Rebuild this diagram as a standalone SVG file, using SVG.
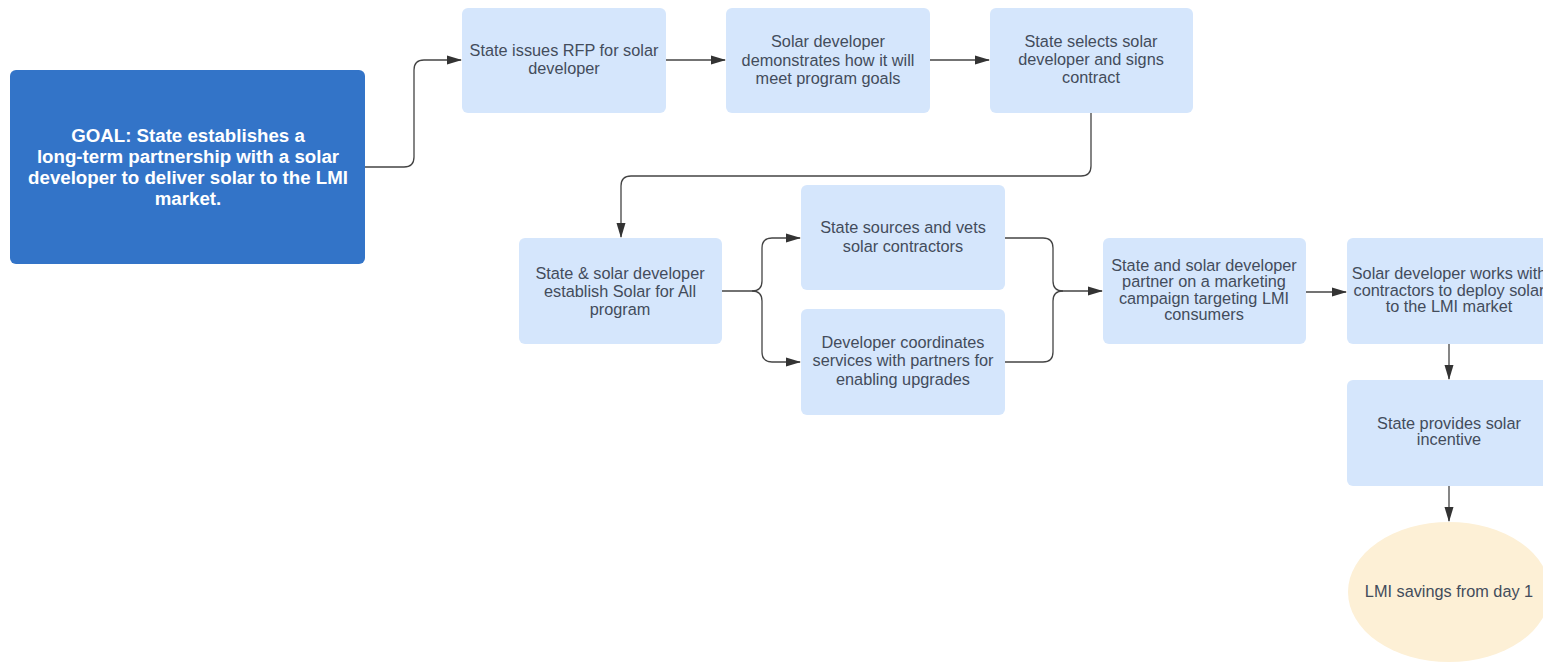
<svg xmlns="http://www.w3.org/2000/svg" width="1543" height="662" viewBox="0 0 1543 662">
<defs>
<style>
.box{fill:#d5e6fc;}
.goal{fill:#3374c8;}
.t{font-family:"Liberation Sans",Arial,sans-serif;font-size:16.3px;fill:#434c5b;text-anchor:middle;}
.gt{font-family:"Liberation Sans",Arial,sans-serif;font-size:18.7px;font-weight:bold;fill:#ffffff;text-anchor:middle;}
.c{fill:none;stroke:#444444;stroke-width:1.3;}
</style>
<marker id="ah" markerWidth="15" markerHeight="10" refX="14" refY="5" orient="auto" markerUnits="userSpaceOnUse">
<path d="M0,0.5 L15,5 L0,9.5 z" fill="#333333"/>
</marker>
</defs>
<rect width="1543" height="662" fill="#ffffff"/>

<g id="connectors">
<path class="c" d="M365 167 H404 Q414 167 414 157 V70 Q414 60 424 60 H461" marker-end="url(#ah)"/>
<path class="c" d="M666 60 H725" marker-end="url(#ah)"/>
<path class="c" d="M930 60 H989" marker-end="url(#ah)"/>
<path class="c" d="M1091 113 V166 Q1091 176 1081 176 H631 Q621 176 621 186 V237" marker-end="url(#ah)"/>
<path class="c" d="M722 291 H752 Q762 291 762 281 V248 Q762 238 772 238 H800" marker-end="url(#ah)"/>
<path class="c" d="M752 291 Q762 291 762 301 V352 Q762 362 772 362 H800" marker-end="url(#ah)"/>
<path class="c" d="M1005 238 H1043 Q1053 238 1053 248 V281 Q1053 291 1063 291 H1102" marker-end="url(#ah)"/>
<path class="c" d="M1005 362 H1043 Q1053 362 1053 352 V301 Q1053 291 1063 291"/>
<path class="c" d="M1306 292 H1346" marker-end="url(#ah)"/>
<path class="c" d="M1449 344 V379" marker-end="url(#ah)"/>
<path class="c" d="M1449 486 V521" marker-end="url(#ah)"/>
</g>

<g id="goal">
<rect class="goal" x="10" y="70" width="355" height="194" rx="6"/>
<text class="gt" x="188" y="142">GOAL: State establishes a</text>
<text class="gt" x="188" y="163">long-term partnership with a solar</text>
<text class="gt" x="188" y="184">developer to deliver solar to the LMI</text>
<text class="gt" x="188" y="205">market.</text>
</g>

<g id="n1">
<rect class="box" x="462" y="8" width="204" height="105" rx="6"/>
<text class="t" x="564" y="56">State issues RFP for solar</text>
<text class="t" x="564" y="74">developer</text>
</g>

<g id="n2">
<rect class="box" x="726" y="8" width="204" height="105" rx="6"/>
<text class="t" x="828" y="47">Solar developer</text>
<text class="t" x="828" y="66">demonstrates how it will</text>
<text class="t" x="828" y="84">meet program goals</text>
</g>

<g id="n3">
<rect class="box" x="990" y="8" width="203" height="105" rx="6"/>
<text class="t" x="1091" y="47">State selects solar</text>
<text class="t" x="1091" y="65">developer and signs</text>
<text class="t" x="1091" y="83">contract</text>
</g>

<g id="n4">
<rect class="box" x="519" y="238" width="203" height="106" rx="6"/>
<text class="t" x="620" y="279">State &amp; solar developer</text>
<text class="t" x="620" y="297">establish Solar for All</text>
<text class="t" x="620" y="315">program</text>
</g>

<g id="n5">
<rect class="box" x="801" y="185" width="204" height="105" rx="6"/>
<text class="t" x="903" y="233">State sources and vets</text>
<text class="t" x="903" y="252">solar contractors</text>
</g>

<g id="n6">
<rect class="box" x="801" y="309" width="204" height="106" rx="6"/>
<text class="t" x="903" y="348">Developer coordinates</text>
<text class="t" x="903" y="366">services with partners for</text>
<text class="t" x="903" y="385">enabling upgrades</text>
</g>

<g id="n7">
<rect class="box" x="1103" y="238" width="203" height="106" rx="6"/>
<text class="t" x="1204" y="271">State and solar developer</text>
<text class="t" x="1204" y="287">partner on a marketing</text>
<text class="t" x="1204" y="304">campaign targeting LMI</text>
<text class="t" x="1204" y="320">consumers</text>
</g>

<g id="n8">
<rect class="box" x="1347" y="238" width="204" height="106" rx="6"/>
<text class="t" x="1449" y="279">Solar developer works with</text>
<text class="t" x="1449" y="296">contractors to deploy solar</text>
<text class="t" x="1449" y="312">to the LMI market</text>
</g>

<g id="n9">
<rect class="box" x="1347" y="380" width="204" height="106" rx="6"/>
<text class="t" x="1449" y="429">State provides solar</text>
<text class="t" x="1449" y="445">incentive</text>
</g>

<g id="n10">
<ellipse cx="1449" cy="592" rx="101" ry="70" fill="#fdf0d6"/>
<text class="t" x="1449" y="597">LMI savings from day 1</text>
</g>
</svg>
